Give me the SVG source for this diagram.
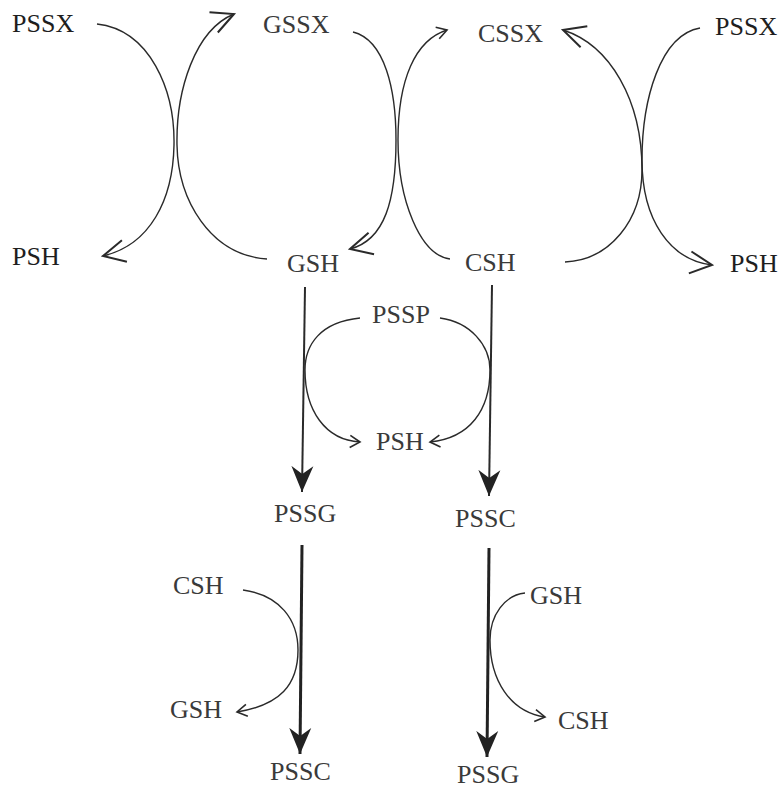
<svg xmlns="http://www.w3.org/2000/svg" width="783" height="789" viewBox="0 0 783 789">
<style>
text{font-family:"Liberation Serif","Times New Roman",serif;font-size:26px;fill:#3a3a3a}
.dark{fill:#1e1e1e}
.c{fill:none;stroke:#2a2a2a;stroke-width:1.4}
.v{fill:none;stroke:#2a2a2a;stroke-width:2}
.vt{fill:none;stroke:#222;stroke-width:3}
</style>
<defs>
<marker id="big" markerUnits="userSpaceOnUse" markerWidth="30" markerHeight="30" refX="28" refY="15" orient="auto" viewBox="0 0 30 30">
<path d="M6,4 L28,15 L6,26" fill="none" stroke="#2a2a2a" stroke-width="2"/>
</marker>
<marker id="small" markerUnits="userSpaceOnUse" markerWidth="16" markerHeight="16" refX="14" refY="8" orient="auto" viewBox="0 0 16 16">
<path d="M4,2 L14,8 L4,14" fill="none" stroke="#2a2a2a" stroke-width="1.6"/>
</marker>
<marker id="fill" markerUnits="userSpaceOnUse" markerWidth="30" markerHeight="24" refX="26" refY="12" orient="auto" viewBox="0 0 30 24">
<path d="M0,1 L26,12 L0,23 L8,12 Z" fill="#222"/>
</marker>
</defs>
<g id="connectors">
<path class="c" d="M97,24 C150,30 175,90 174,145 C173,200 150,245 103,256" marker-end="url(#big)"/>
<path class="c" d="M267,259 C210,255 178,200 177,145 C176,90 195,30 234,14" marker-end="url(#big)"/>
<path class="c" d="M353,32 C385,40 396,90 396,140 C396,200 385,240 350,249" marker-end="url(#big)"/>
<path class="c" d="M450,259 C420,255 398,200 398,140 C398,80 415,40 447,30" marker-end="url(#small)"/>
<path class="c" d="M700,28 C660,35 642,100 642,160 C642,220 670,260 712,265" marker-end="url(#big)"/>
<path class="c" d="M565,262 C610,260 642,220 642,170 C642,100 610,45 563,30" marker-end="url(#big)"/>
<path class="v" d="M305,287 L302,492" marker-end="url(#fill)"/>
<path class="v" d="M492,285 L489,496" marker-end="url(#fill)"/>
<path class="c" d="M360,318 C320,322 305,345 305,370 C305,410 325,440 360,442" marker-end="url(#small)"/>
<path class="c" d="M440,318 C470,322 490,345 490,370 C490,410 470,438 430,442" marker-end="url(#small)"/>
<path class="vt" d="M302,545 L300,754" marker-end="url(#fill)"/>
<path class="vt" d="M489,548 L487,757" marker-end="url(#fill)"/>
<path class="c" d="M243,590 C280,595 298,620 298,650 C298,685 280,705 237,712" marker-end="url(#small)"/>
<path class="c" d="M525,593 C505,595 490,615 490,640 C490,680 510,712 545,717" marker-end="url(#small)"/>
</g>
<g id="n-pssx-l"><text class="dark" x="12" y="32">PSSX</text></g>
<g id="n-gssx"><text x="263" y="33">GSSX</text></g>
<g id="n-cssx"><text x="478" y="42">CSSX</text></g>
<g id="n-pssx-r"><text class="dark" x="715" y="35">PSSX</text></g>
<g id="n-psh-l"><text class="dark" x="12" y="265">PSH</text></g>
<g id="n-gsh"><text x="287" y="272">GSH</text></g>
<g id="n-csh"><text x="465" y="271">CSH</text></g>
<g id="n-psh-r"><text class="dark" x="730" y="272">PSH</text></g>
<g id="n-pssp"><text x="372" y="323">PSSP</text></g>
<g id="n-psh-m"><text x="376" y="450">PSH</text></g>
<g id="n-pssg"><text x="274" y="522">PSSG</text></g>
<g id="n-pssc"><text x="455" y="527">PSSC</text></g>
<g id="n-csh-bl"><text x="173" y="594">CSH</text></g>
<g id="n-gsh-bl"><text x="170" y="718">GSH</text></g>
<g id="n-pssc-b"><text x="270" y="780">PSSC</text></g>
<g id="n-gsh-br"><text x="530" y="604">GSH</text></g>
<g id="n-csh-br"><text x="558" y="729">CSH</text></g>
<g id="n-pssg-b"><text x="457" y="783">PSSG</text></g>
</svg>
